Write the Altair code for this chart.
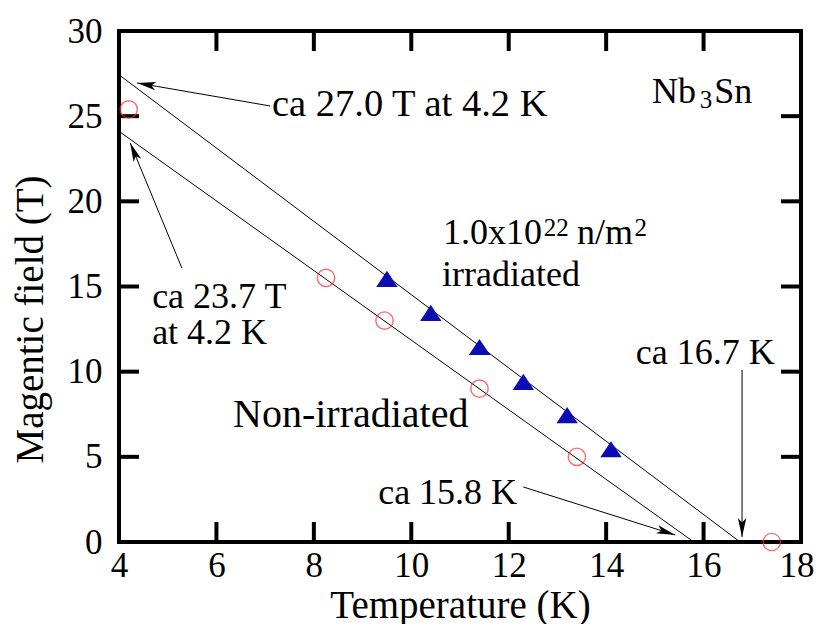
import math
import altair as alt
import pandas as pd

# ---------------- data ----------------
x_tick_values = [4, 6, 8, 10, 12, 14, 16, 18]
y_tick_values = [0, 5, 10, 15, 20, 25, 30]
inner_x_ticks = [6, 8, 10, 12, 14, 16]
inner_y_ticks = [5, 10, 15, 20, 25]

T_non = [4.2, 8.25, 9.45, 11.4, 13.4, 17.4]
B_non = [25.4, 15.5, 13.0, 9.0, 5.0, 0.0]

T_irr = [9.5, 10.4, 11.4, 12.3, 13.2, 14.1]
B_irr = [15.45, 13.45, 11.45, 9.4, 7.45, 5.45]

fit_group = ["irr", "irr", "non", "non"]
fit_T = [4.0, 16.75, 4.0, 15.8]
fit_B = [27.43, 0.0, 24.11, 0.0]

# regular annotations
ann_text = ["Nb", "Sn", "1.0x10", "n/m", "irradiated",
            "ca 23.7 T", "at 4.2 K", "ca 15.8 K", "ca 16.7 K"]
ann_x = [14.94, 16.22, 10.65, 13.4, 10.63, 4.68, 4.68, 9.32, 14.61]
ann_y = [26.42, 26.42, 18.17, 18.17, 15.68, 14.38, 12.27, 2.88, 11.10]

# superscripts / subscripts
small_text = ["22", "2", "3"]
small_x = [12.72, 14.58, 15.92]
small_y = [18.45, 18.45, 25.95]

# larger annotations
big_text = ["ca 27.0 T at 4.2 K"]
big_x = [7.14]
big_y = [25.71]
big2_text = ["Non-irradiated"]
big2_x = [6.34]
big2_y = [7.46]

arr_x1 = [7.10, 5.29, 12.30, 16.79]
arr_y1 = [25.6, 16.09, 3.23, 10.1]
arr_x2 = [4.37, 4.23, 15.42, 16.79]
arr_y2 = [26.95, 23.43, 0.41, 0.29]

# ---------------- layout ----------------
W, H = 682, 511
XMIN, XMAX, YMIN, YMAX = 4, 18, 0, 30
FONT = "Liberation Serif"

xs = alt.Scale(domain=[XMIN, XMAX], nice=False, zero=False)
ys = alt.Scale(domain=[YMIN, YMAX], nice=False, zero=False)

sx = W / (XMAX - XMIN)
sy = H / (YMAX - YMIN)
arr_angle = [
    math.degrees(math.atan2((x2 - x1) * sx, (y2 - y1) * sy)) % 360
    for x1, y1, x2, y2 in zip(arr_x1, arr_y1, arr_x2, arr_y2)
]

df_fit = pd.DataFrame({"g": fit_group, "T": fit_T, "B": fit_B})
df_non = pd.DataFrame({"T": T_non, "B": B_non})
df_irr = pd.DataFrame({"T": T_irr, "B": B_irr})
df_ann = pd.DataFrame({"t": ann_text, "T": ann_x, "B": ann_y})
df_small = pd.DataFrame({"t": small_text, "T": small_x, "B": small_y})
df_big = pd.DataFrame({"t": big_text, "T": big_x, "B": big_y})
df_big2 = pd.DataFrame({"t": big2_text, "T": big2_x, "B": big2_y})
df_arr = pd.DataFrame({"T": arr_x1, "B": arr_y1, "x2": arr_x2, "y2": arr_y2})
df_head = pd.DataFrame({"T": arr_x2, "B": arr_y2, "a": arr_angle})
df_xt = pd.DataFrame({"T": inner_x_ticks})
df_yt = pd.DataFrame({"B": inner_y_ticks})

x_axis = alt.Axis(values=x_tick_values, title="Temperature (K)", labelFont=FONT, titleFont=FONT,
                  labelFontSize=35, titleFontSize=39, labelColor="black", titleColor="black",
                  titleFontWeight="normal", domain=False, ticks=False, grid=False,
                  labelPadding=6, labelFlush=False, labelOverlap=False,
                  labelAlign=alt.ExprRef(expr="datum.value == 18 ? 'right' : 'center'"),
                  labelOffset=alt.ExprRef(expr="datum.value == 18 ? 13 : 0"),
                  titleY=75, titleBaseline="alphabetic")
y_axis = alt.Axis(values=y_tick_values, title="Magentic field (T)", labelFont=FONT, titleFont=FONT,
                  labelFontSize=35, titleFontSize=39, labelColor="black", titleColor="black",
                  titleFontWeight="normal", domain=False, ticks=False, grid=False,
                  labelPadding=17, labelFlush=False, labelOverlap=False,
                  titleX=-77, titleY=288, titleBaseline="alphabetic")

X = alt.X("T:Q", scale=xs, axis=x_axis)
Y = alt.Y("B:Q", scale=ys, axis=y_axis)

fit = alt.Chart(df_fit).mark_line(color="black", strokeWidth=1).encode(x=X, y=Y, detail="g:N")

non = alt.Chart(df_non).mark_point(shape="circle", size=300, filled=False, color="#ff2a2a",
                                   strokeWidth=1.4, clip=False).encode(x=X, y=Y)

tri_path = "M0,-0.75L1,0.75L-1,0.75Z"
irr = alt.Chart(df_irr).mark_point(shape=tri_path, size=460, filled=True, color="#0c0cb4",
                                   opacity=1).encode(x=X, y=Y)

shafts = alt.Chart(df_arr).mark_rule(color="black", strokeWidth=1).encode(
    x=X, y=Y, x2="x2:Q", y2="y2:Q")

head_path = "M0,0L0.42,1.9L0,1.45L-0.42,1.9Z"
heads = alt.Chart(df_head).mark_point(shape=head_path, size=400, filled=True, color="black",
                                      opacity=1).encode(x=X, y=Y, angle=alt.Angle("a:Q", scale=None))

def text_layer(df, size):
    return alt.Chart(df).mark_text(font=FONT, fontSize=size, align="left", baseline="middle",
                                   color="black").encode(x=X, y=Y, text="t:N")

texts = text_layer(df_ann, 36)
smalls = text_layer(df_small, 25)
bigs = text_layer(df_big, 38.5)
bigs2 = text_layer(df_big2, 40)

tick_kw = dict(size=20, thickness=4, color="black", opacity=1)
t_bottom = alt.Chart(df_xt).mark_tick(orient="vertical", **tick_kw).encode(x=X, y=alt.value(H - 10))
t_top = alt.Chart(df_xt).mark_tick(orient="vertical", **tick_kw).encode(x=X, y=alt.value(10))
t_left = alt.Chart(df_yt).mark_tick(orient="horizontal", **tick_kw).encode(y=Y, x=alt.value(10))
t_right = alt.Chart(df_yt).mark_tick(orient="horizontal", **tick_kw).encode(y=Y, x=alt.value(W - 10))

chart = alt.layer(fit, t_bottom, t_top, t_left, t_right, shafts, heads, non, irr,
                  texts, smalls, bigs, bigs2).properties(
    width=W, height=H,
    autosize=alt.AutoSizeParams(type="none"),
    padding={"left": 111, "top": 23, "right": 13, "bottom": 82},
).configure(background="white").configure_view(stroke="black", strokeWidth=4)

chart.save("out.html", embed_options={"renderer": "svg", "actions": False})
